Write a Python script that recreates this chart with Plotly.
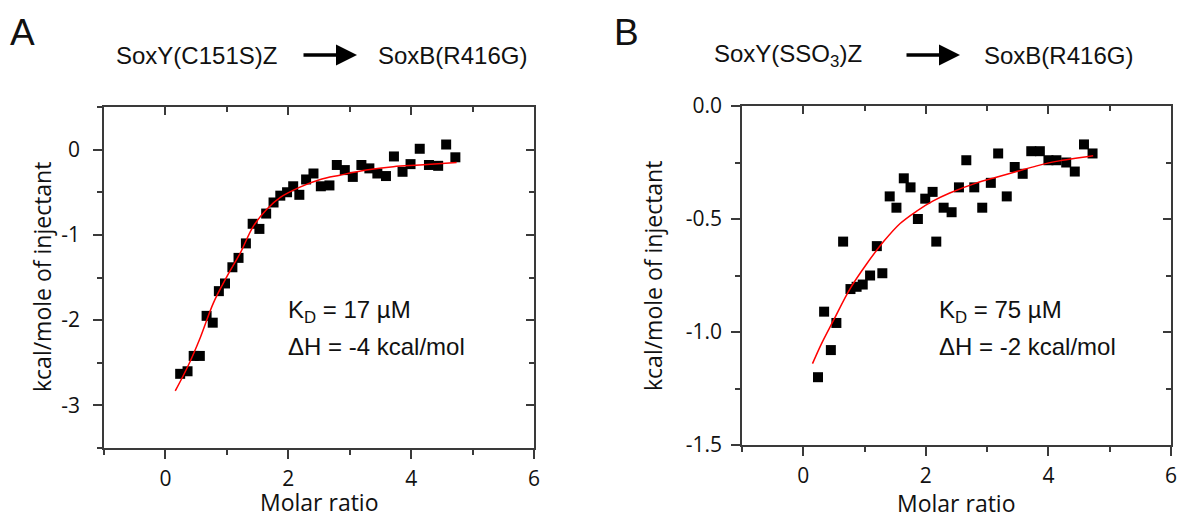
import plotly.graph_objects as go

W, H = 1181, 517

# ---- Panel A data: SoxY(C151S)Z -> SoxB(R416G)
a_ratio = [0.24, 0.36, 0.46, 0.56, 0.67, 0.77, 0.87, 0.97, 1.09, 1.19, 1.31, 1.42, 1.53,
           1.64, 1.76, 1.87, 1.98, 2.08, 2.18, 2.29, 2.41, 2.53, 2.67, 2.79, 2.92, 3.05,
           3.19, 3.32, 3.45, 3.59, 3.72, 3.86, 3.99, 4.14, 4.29, 4.44, 4.57, 4.72]
a_heat = [-2.63, -2.60, -2.42, -2.42, -1.95, -2.03, -1.66, -1.57, -1.38, -1.27, -1.10, -0.87, -0.93,
          -0.75, -0.62, -0.54, -0.50, -0.43, -0.53, -0.35, -0.28, -0.43, -0.42, -0.18, -0.24, -0.32,
          -0.18, -0.22, -0.28, -0.31, -0.08, -0.26, -0.17, 0.01, -0.18, -0.19, 0.06, -0.09]
a_fit_x = [0.16, 0.36, 0.57, 0.78, 1.00, 1.22, 1.43, 1.65, 1.87, 2.19, 2.52, 2.84, 3.27, 3.71, 4.14, 4.74]
a_fit_y = [-2.83, -2.55, -2.20, -1.80, -1.49, -1.21, -0.90, -0.70, -0.56, -0.44, -0.35, -0.30, -0.24, -0.20, -0.18, -0.15]

# ---- Panel B data: SoxY(SSO3)Z -> SoxB(R416G)
b_ratio = [0.24, 0.34, 0.45, 0.54, 0.65, 0.77, 0.87, 0.97, 1.09, 1.20, 1.29, 1.41, 1.52,
           1.64, 1.75, 1.87, 1.99, 2.11, 2.17, 2.29, 2.42, 2.54, 2.66, 2.79, 2.92, 3.06,
           3.18, 3.32, 3.45, 3.58, 3.72, 3.86, 4.00, 4.13, 4.29, 4.43, 4.58, 4.72]
b_heat = [-1.20, -0.91, -1.08, -0.96, -0.60, -0.81, -0.80, -0.79, -0.75, -0.62, -0.74, -0.40, -0.45,
          -0.32, -0.36, -0.50, -0.41, -0.38, -0.60, -0.45, -0.47, -0.36, -0.24, -0.36, -0.45, -0.34,
          -0.21, -0.40, -0.27, -0.30, -0.20, -0.20, -0.24, -0.24, -0.25, -0.29, -0.17, -0.21]
b_fit_x = [0.15, 0.30, 0.49, 0.76, 1.03, 1.31, 1.58, 1.85, 2.12, 2.39, 2.83, 3.15, 3.48, 3.81, 4.13, 4.73]
b_fit_y = [-1.14, -1.05, -0.95, -0.81, -0.70, -0.60, -0.52, -0.465, -0.42, -0.385, -0.34, -0.315, -0.29, -0.265, -0.245, -0.22]

# ---- axes: ranges and tick labels
x_range = [-1, 6]
x_tick_vals = [0, 2, 4, 6]
x_tick_text = ["0", "2", "4", "6"]
a_y_range = [-3.5, 0.5]
a_y_tick_vals = [0, -1, -2, -3]
a_y_tick_text = ["0", "-1", "-2", "-3"]
b_y_range = [-1.5, 0.0]
b_y_tick_vals = [0.0, -0.5, -1.0, -1.5]
b_y_tick_text = ["0.0", "-0.5", "-1.0", "-1.5"]

AXIS_COLOR = "#3a3a3a"
TICK_FONT = dict(family="Open Sans", size=21, color="#111")
TXT_FONT = dict(family="Liberation Sans, Arial", size=24, color="#111")


def px_x(p):
    return p / W


def px_y(p):
    return 1 - p / H


fig = go.Figure()

# panel A
fig.add_trace(go.Scatter(x=a_ratio, y=a_heat, mode="markers", xaxis="x", yaxis="y",
                         marker=dict(symbol="square", size=10, color="black"), showlegend=False))
fig.add_trace(go.Scatter(x=a_fit_x, y=a_fit_y, mode="lines", xaxis="x", yaxis="y",
                         line=dict(color="red", width=1.5, shape="spline"), showlegend=False))
# panel B
fig.add_trace(go.Scatter(x=b_ratio, y=b_heat, mode="markers", xaxis="x2", yaxis="y2",
                         marker=dict(symbol="square", size=10, color="black"), showlegend=False))
fig.add_trace(go.Scatter(x=b_fit_x, y=b_fit_y, mode="lines", xaxis="x2", yaxis="y2",
                         line=dict(color="red", width=1.5, shape="spline"), showlegend=False))
# empty traces to activate the mirror (top/right) axes
fig.add_trace(go.Scatter(x=[], y=[], xaxis="x3", yaxis="y3", showlegend=False))
fig.add_trace(go.Scatter(x=[], y=[], xaxis="x4", yaxis="y4", showlegend=False))

A_XD = [px_x(104), px_x(534)]
A_YD = [px_y(448), px_y(107)]
B_XD = [px_x(742), px_x(1171)]
B_YD = [px_y(445), px_y(106)]


def main_axis(domain, rng, vals, labels, minor_dtick, anchor, standoff):
    return dict(domain=domain, range=rng, tickmode="array", tickvals=vals, ticktext=labels,
                anchor=anchor, automargin=False,
                showline=True, linecolor=AXIS_COLOR, linewidth=1.5,
                ticks="outside", ticklen=9, tickwidth=1.5, tickcolor=AXIS_COLOR,
                minor=dict(tickmode="linear", dtick=minor_dtick, tick0=0, ticks="outside",
                           ticklen=5, tickwidth=1.5, tickcolor=AXIS_COLOR),
                showgrid=False, zeroline=False, tickfont=TICK_FONT,
                ticklabelstandoff=standoff)


def mirror_axis(domain, rng, dtick, minor_dtick, anchor, overlay, side):
    return dict(domain=domain, range=rng, dtick=dtick, tick0=0, anchor=anchor,
                overlaying=overlay, side=side, automargin=False,
                showline=True, linecolor=AXIS_COLOR, linewidth=1.5,
                ticks="inside", ticklen=8, tickwidth=1.5, tickcolor=AXIS_COLOR,
                minor=dict(dtick=minor_dtick, tick0=0, ticks="inside", ticklen=5,
                           tickwidth=1.5, tickcolor=AXIS_COLOR),
                showgrid=False, zeroline=False, showticklabels=False)


fig.update_layout(
    width=W, height=H, margin=dict(l=0, r=0, t=0, b=0, autoexpand=False),
    paper_bgcolor="white", plot_bgcolor="white", showlegend=False,
    xaxis=main_axis(A_XD, x_range, x_tick_vals, x_tick_text, 1, "y", 2),
    yaxis=main_axis(A_YD, a_y_range, a_y_tick_vals, a_y_tick_text, 0.5, "x", 9),
    xaxis2=main_axis(B_XD, x_range, x_tick_vals, x_tick_text, 1, "y2", 2),
    yaxis2=main_axis(B_YD, b_y_range, b_y_tick_vals, b_y_tick_text, 0.25, "x2", 5),
    xaxis3=mirror_axis(A_XD, x_range, 2, 1, "y", "x", "top"),
    yaxis3=mirror_axis(A_YD, a_y_range, 1, 0.5, "x", "y", "right"),
    xaxis4=mirror_axis(B_XD, x_range, 2, 1, "y2", "x2", "top"),
    yaxis4=mirror_axis(B_YD, b_y_range, 0.5, 0.25, "x2", "y2", "right"),
)

ann = []


def text(px, py, s, font, xanchor="left", yanchor="middle", angle=0):
    ann.append(dict(x=px_x(px), y=px_y(py), xref="paper", yref="paper", text=s,
                    showarrow=False, xanchor=xanchor, yanchor=yanchor, font=font,
                    textangle=angle, borderpad=0))


def arrow(x0, x1, py):
    ann.append(dict(x=px_x(x1), y=px_y(py), xref="paper", yref="paper",
                    ax=-(x1 - x0), ay=0, axref="pixel", ayref="pixel", text="",
                    showarrow=True, arrowhead=2, arrowsize=1.2, arrowwidth=3.5,
                    arrowcolor="black"))


PANEL_FONT = dict(family="Liberation Sans, Arial", size=37, color="#111")
TITLE_FONT = dict(family="Open Sans", size=23, color="#111")

# panel letters
text(9, 33, "A", PANEL_FONT)
text(613, 33, "B", PANEL_FONT)

# headers
text(115, 56, "SoxY(C151S)Z", TXT_FONT)
arrow(302, 357, 55)
text(377, 56, "SoxB(R416G)", TXT_FONT)
text(713, 56, "SoxY(SSO<sub>3</sub>)Z", TXT_FONT)
arrow(905, 960, 55)
text(983, 56, "SoxB(R416G)", TXT_FONT)

# binding parameters
text(287, 311, "K<sub>D</sub> = 17 µM", TXT_FONT)
text(287, 346, "ΔH = -4 kcal/mol", TXT_FONT)
text(938, 311, "K<sub>D</sub> = 75 µM", TXT_FONT)
text(938, 346, "ΔH = -2 kcal/mol", TXT_FONT)

# axis titles
text(319, 502, "Molar ratio", TITLE_FONT, xanchor="center")
text(956, 503, "Molar ratio", TITLE_FONT, xanchor="center")
text(42, 277, "kcal/mole of injectant", TITLE_FONT, xanchor="center", angle=-90)
text(653, 276, "kcal/mole of injectant", TITLE_FONT, xanchor="center", angle=-90)

fig.update_layout(annotations=ann)
fig.write_html(
    "out.html",
    config={"displayModeBar": False},
    post_script="document.body.style.margin='0';document.body.style.overflow='hidden';",
)
